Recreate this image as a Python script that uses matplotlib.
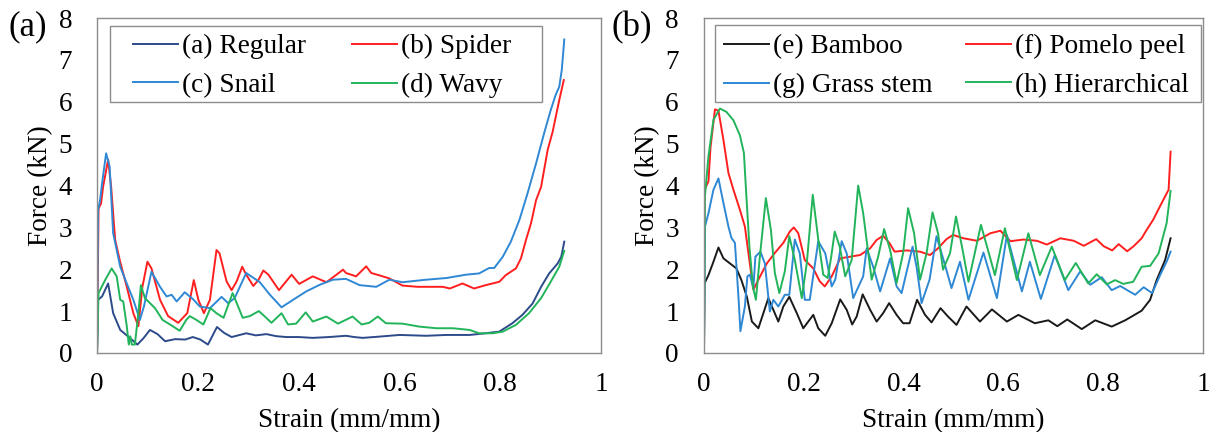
import matplotlib
matplotlib.use("Agg")
import matplotlib.pyplot as plt
from matplotlib.patches import Rectangle

plt.rcParams['font.family'] = ['Liberation Serif', 'DejaVu Serif']

# ---- panel (a) ----
regular_x = [0, 0.002, 0.01, 0.022, 0.032, 0.046, 0.065, 0.080, 0.092, 0.105, 0.12, 0.135, 0.155, 0.175,
             0.19, 0.205, 0.22, 0.238, 0.252, 0.267, 0.28, 0.296, 0.315, 0.336, 0.356, 0.376, 0.4, 0.428,
             0.46, 0.494, 0.51, 0.527, 0.56, 0.6, 0.653, 0.693, 0.739, 0.771, 0.798, 0.824, 0.844, 0.864,
             0.881, 0.897, 0.914, 0.921, 0.927]
regular_y = [0, 1.27, 1.35, 1.66, 0.95, 0.55, 0.36, 0.2, 0.35, 0.55, 0.45, 0.28, 0.33, 0.32,
             0.38, 0.32, 0.2, 0.62, 0.48, 0.38, 0.42, 0.47, 0.42, 0.45, 0.4, 0.38, 0.38, 0.36,
             0.38, 0.41, 0.38, 0.36, 0.39, 0.43, 0.41, 0.43, 0.43, 0.47, 0.51, 0.71, 0.91, 1.18,
             1.58, 1.90, 2.14, 2.30, 2.66]

spider_x = [0, 0.003, 0.008, 0.012, 0.022, 0.028, 0.036, 0.045, 0.059, 0.072, 0.082, 0.09, 0.1, 0.108,
            0.125, 0.141, 0.161, 0.179, 0.192, 0.201, 0.212, 0.224, 0.237, 0.243, 0.257, 0.267, 0.277,
            0.288, 0.296, 0.31, 0.32, 0.33, 0.34, 0.361, 0.386, 0.401, 0.428, 0.455, 0.475, 0.488, 0.494,
            0.514, 0.534, 0.544, 0.564, 0.58, 0.606, 0.636, 0.686, 0.7, 0.725, 0.748, 0.771, 0.798,
            0.811, 0.831, 0.841, 0.851, 0.861, 0.871, 0.881, 0.894, 0.904, 0.91, 0.917, 0.926]
spider_y = [0, 3.45, 3.57, 3.97, 4.62, 3.97, 2.70, 2.22, 1.58, 0.95, 0.64, 1.58, 2.18, 2.02,
            1.27, 0.88, 0.72, 0.95, 1.74, 1.27, 0.95, 1.27, 2.46, 2.38, 1.71, 1.50, 1.71,
            2.06, 1.87, 1.60, 1.74, 1.97, 1.87, 1.50, 1.87, 1.65, 1.83, 1.69, 1.87, 1.99, 1.91,
            1.83, 2.07, 1.91, 1.84, 1.78, 1.61, 1.58, 1.58, 1.54, 1.66, 1.54, 1.62, 1.70,
            1.86, 2.02, 2.26, 2.70, 3.10, 3.65, 3.97, 4.85, 5.29, 5.64, 6.04, 6.52]

snail_x = [0, 0.002, 0.006, 0.01, 0.018, 0.025, 0.032, 0.046, 0.059, 0.072, 0.085, 0.093, 0.108, 0.125,
           0.138, 0.148, 0.158, 0.174, 0.19, 0.204, 0.224, 0.247, 0.26, 0.273, 0.296, 0.323, 0.343,
           0.366, 0.389, 0.415, 0.442, 0.468, 0.494, 0.521, 0.554, 0.58, 0.606, 0.653, 0.693, 0.732,
           0.758, 0.778, 0.788, 0.805, 0.821, 0.838, 0.854, 0.871, 0.887, 0.9, 0.91, 0.917, 0.922, 0.927]
snail_y = [0, 3.4, 3.65, 4.05, 4.77, 4.45, 2.86, 2.06, 1.66, 1.27, 0.79, 1.11, 1.94, 1.58,
           1.35, 1.39, 1.23, 1.45, 1.29, 1.11, 1.07, 1.34, 1.19, 1.31, 1.91, 1.69, 1.39,
           1.09, 1.27, 1.47, 1.63, 1.75, 1.77, 1.62, 1.58, 1.75, 1.69, 1.75, 1.79, 1.87,
           1.90, 2.03, 2.03, 2.30, 2.66, 3.18, 3.81, 4.53, 5.25, 5.80, 6.17, 6.36, 6.76, 7.49]

wavy_x = [0, 0.003, 0.016, 0.029, 0.039, 0.046, 0.052, 0.059, 0.063, 0.066, 0.069, 0.075, 0.082, 0.087,
          0.095, 0.115, 0.13, 0.15, 0.164, 0.177, 0.184, 0.197, 0.211, 0.225, 0.237, 0.251, 0.269,
          0.289, 0.303, 0.321, 0.333, 0.346, 0.366, 0.379, 0.395, 0.414, 0.428, 0.455, 0.478, 0.507,
          0.525, 0.54, 0.557, 0.573, 0.606, 0.639, 0.673, 0.706, 0.739, 0.758, 0.785, 0.805, 0.831,
          0.857, 0.881, 0.9, 0.917, 0.927]
wavy_y = [0, 1.43, 1.74, 2.02, 1.83, 1.27, 1.23, 0.64, 0.2, 0.4, 0.2, 0.2, 0.95, 1.62,
          1.31, 1.07, 0.79, 0.64, 0.53, 0.79, 0.88, 0.79, 0.68, 1.07, 0.95, 0.84, 1.43,
          0.84, 0.88, 1.0, 0.87, 0.72, 0.95, 0.68, 0.70, 0.97, 0.75, 0.87, 0.70, 0.87,
          0.68, 0.72, 0.87, 0.71, 0.70, 0.63, 0.59, 0.59, 0.55, 0.47, 0.47, 0.51, 0.67,
          0.95, 1.31, 1.70, 2.06, 2.44]

# ---- panel (b) ----
bamboo_x = [0, 0.001, 0.009, 0.019, 0.029, 0.039, 0.052, 0.065, 0.075, 0.086, 0.096, 0.109, 0.119, 0.129,
            0.139, 0.149, 0.159, 0.171, 0.186, 0.199, 0.219, 0.229, 0.243, 0.256, 0.273, 0.286, 0.297,
            0.306, 0.318, 0.333, 0.346, 0.359, 0.371, 0.386, 0.399, 0.412, 0.427, 0.443, 0.456, 0.474,
            0.489, 0.506, 0.526, 0.553, 0.577, 0.607, 0.63, 0.663, 0.69, 0.708, 0.728, 0.757, 0.784,
            0.817, 0.844, 0.857, 0.877, 0.894, 0.907, 0.924, 0.935]
bamboo_y = [0, 1.66, 1.86, 2.18, 2.52, 2.26, 2.14, 2.02, 1.74, 1.34, 0.75, 0.59, 0.95, 1.31,
            1.03, 0.75, 1.11, 1.34, 0.95, 0.59, 0.91, 0.59, 0.41, 0.71, 1.28, 1.03, 0.68,
            0.87, 1.40, 1.03, 0.75, 0.95, 1.19, 0.91, 0.71, 0.71, 1.27, 0.91, 0.73, 1.07,
            0.87, 0.67, 1.11, 0.75, 1.04, 0.75, 0.91, 0.71, 0.78, 0.64, 0.80, 0.57, 0.78,
            0.63, 0.78, 0.87, 1.01, 1.27, 1.74, 2.22, 2.74]

pomelo_x = [0, 0.001, 0.009, 0.013, 0.022, 0.029, 0.039, 0.049, 0.059, 0.072, 0.082, 0.089, 0.099, 0.109,
            0.126, 0.142, 0.159, 0.172, 0.18, 0.189, 0.202, 0.219, 0.232, 0.242, 0.256, 0.273, 0.293,
            0.313, 0.333, 0.346, 0.359, 0.372, 0.382, 0.406, 0.433, 0.453, 0.469, 0.486, 0.499, 0.52,
            0.547, 0.574, 0.594, 0.614, 0.64, 0.667, 0.687, 0.714, 0.741, 0.761, 0.786, 0.801, 0.818,
            0.831, 0.848, 0.861, 0.877, 0.887, 0.9, 0.917, 0.931, 0.935]
pomelo_y = [0, 3.9, 4.1, 4.9, 5.82, 5.79, 5.09, 4.3, 3.9, 3.42, 3.02, 2.39, 1.51, 1.75,
            2.14, 2.39, 2.63, 2.9, 3.0, 2.86, 2.22, 2.02, 1.71, 1.59, 1.83, 2.26, 2.3,
            2.34, 2.5, 2.7, 2.8, 2.62, 2.42, 2.45, 2.42, 2.34, 2.5, 2.72, 2.82, 2.74,
            2.68, 2.86, 2.92, 2.67, 2.71, 2.68, 2.59, 2.74, 2.68, 2.56, 2.72, 2.55, 2.45,
            2.6, 2.43, 2.55, 2.74, 2.94, 3.18, 3.58, 3.9, 4.81]

grass_x = [0, 0.002, 0.009, 0.019, 0.029, 0.039, 0.049, 0.055, 0.062, 0.069, 0.073, 0.082, 0.087, 0.092,
           0.099, 0.103, 0.113, 0.122, 0.132, 0.139, 0.149, 0.162, 0.171, 0.182, 0.192, 0.202, 0.212,
           0.229, 0.243, 0.256, 0.263, 0.276, 0.286, 0.299, 0.319, 0.326, 0.339, 0.353, 0.373, 0.386,
           0.396, 0.418, 0.426, 0.436, 0.452, 0.466, 0.483, 0.496, 0.513, 0.53, 0.56, 0.587, 0.607,
           0.637, 0.653, 0.675, 0.703, 0.73, 0.754, 0.774, 0.797, 0.817, 0.834, 0.864, 0.881, 0.898,
           0.914, 0.927, 0.935]
grass_y = [0, 3.02, 3.34, 3.9, 4.17, 3.58, 3.02, 2.75, 2.63, 1.36, 0.52, 1.11, 1.83, 1.87,
           1.55, 2.3, 2.42, 2.14, 0.99, 1.27, 1.11, 1.39, 1.39, 2.71, 2.38, 1.27, 1.27,
           2.67, 2.38, 1.59, 1.75, 2.67, 2.38, 1.31, 1.83, 2.5, 2.06, 1.47, 2.26, 1.59,
           1.43, 2.54, 2.06, 1.19, 1.75, 2.79, 2.1, 1.55, 2.18, 1.27, 2.40, 1.31, 2.82,
           1.47, 2.18, 1.29, 2.34, 1.5, 1.95, 1.63, 1.81, 1.5, 1.6, 1.39, 1.57, 1.43,
           1.86, 2.18, 2.42]

hier_x = [0, 0.002, 0.009, 0.019, 0.032, 0.045, 0.059, 0.072, 0.08, 0.085, 0.091, 0.098, 0.104, 0.112,
          0.124, 0.134, 0.142, 0.151, 0.162, 0.171, 0.182, 0.196, 0.206, 0.218, 0.229, 0.239, 0.248,
          0.255, 0.262, 0.272, 0.283, 0.296, 0.309, 0.319, 0.336, 0.349, 0.361, 0.373, 0.386, 0.399,
          0.409, 0.421, 0.433, 0.446, 0.458, 0.469, 0.479, 0.493, 0.505, 0.517, 0.53, 0.555, 0.583,
          0.603, 0.627, 0.65, 0.673, 0.697, 0.723, 0.745, 0.77, 0.787, 0.807, 0.824, 0.84, 0.86,
          0.877, 0.894, 0.911, 0.927, 0.935]
hier_y = [0, 3.75, 4.7, 5.57, 5.84, 5.76, 5.56, 5.2, 4.78, 3.74, 2.55, 1.59, 1.27, 2.3,
          3.7, 2.95, 1.91, 1.43, 1.95, 2.79, 2.22, 1.31, 2.14, 3.78, 2.71, 1.87, 1.79,
          2.3, 2.9, 2.54, 1.83, 2.22, 4.0, 3.34, 1.75, 2.3, 2.96, 2.46, 1.67, 2.38,
          3.46, 2.86, 1.75, 2.38, 3.36, 2.86, 1.99, 2.38, 3.26, 2.54, 1.70, 3.06, 1.86,
          2.98, 1.74, 2.86, 1.86, 2.54, 1.74, 2.15, 1.66, 1.88, 1.64, 1.74, 1.65, 1.7,
          2.06, 2.08, 2.38, 3.1, 3.87]

labels_a = ['(a) Regular', '(b) Spider', '(c) Snail', '(d) Wavy']
labels_b = ['(e) Bamboo', '(f) Pomelo peel', '(g) Grass stem', '(h) Hierarchical']
ticks_x = [0, 0.2, 0.4, 0.6, 0.8, 1]
tick_x_labels = ['0', '0.2', '0.4', '0.6', '0.8', '1']
ticks_y = [0, 1, 2, 3, 4, 5, 6, 7, 8]

navy = '#2d4a8a'
red = '#ff1f1f'
blue = '#2f88d4'
green = '#22b45a'
black = '#1a1a1a'
edge = '#8c8c8c'

fs = 19.6
lw = 1.4

fig = plt.figure(figsize=(12.19, 4.32), dpi=100)
axA = fig.add_axes([0.0796, 0.183, 0.4135, 0.775])
axB = fig.add_axes([0.5775, 0.183, 0.4094, 0.775])

hA = []
hA += axA.plot(regular_x, regular_y, color=navy, lw=lw)
hA += axA.plot(spider_x, spider_y, color=red, lw=lw)
hA += axA.plot(snail_x, snail_y, color=blue, lw=lw)
hA += axA.plot(wavy_x, wavy_y, color=green, lw=lw)

hB = []
hB += axB.plot(bamboo_x, bamboo_y, color=black, lw=lw)
hB += axB.plot(pomelo_x, pomelo_y, color=red, lw=lw)
hB += axB.plot(grass_x, grass_y, color=blue, lw=lw)
hB += axB.plot(hier_x, hier_y, color=green, lw=lw)

# legend frame box (axes fraction) and where the entries start
panels = [
    (axA, hA, labels_a, (0.026, 0.749, 0.857, 0.227), (0.071, 0.952), 1.7),
    (axB, hB, labels_b, (0.022, 0.749, 0.974, 0.230), (0.040, 0.952), 1.25),
]

for ax, handles, labels, box, anchor, colsp in panels:
    ax.set_xlim(0, 1)
    ax.set_ylim(0, 8)
    ax.set_xticks(ticks_x)
    ax.set_xticklabels(tick_x_labels)
    ax.set_yticks(ticks_y)
    ax.tick_params(axis='both', length=0, labelsize=fs)
    ax.tick_params(axis='x', pad=14)
    ax.tick_params(axis='y', pad=18)
    for s in ax.spines.values():
        s.set_color(edge)
        s.set_linewidth(1.0)
    ax.set_xlabel('Strain (mm/mm)', fontsize=fs, labelpad=8)
    ax.set_ylabel('Force (kN)', fontsize=fs, labelpad=4)

    ax.add_patch(Rectangle(box[:2], box[2], box[3], transform=ax.transAxes,
                           facecolor='white', edgecolor=edge, lw=1.0, zorder=4))
    # row order: first, second / third, fourth -> matplotlib fills by column
    order = [0, 2, 1, 3]
    leg = ax.legend([handles[i] for i in order], [labels[i] for i in order],
                    loc='upper left', bbox_to_anchor=anchor, ncol=2,
                    fontsize=fs, frameon=False, handlelength=1.65, handletextpad=0.15,
                    labelspacing=0.5, borderpad=0, columnspacing=colsp, borderaxespad=0)
    leg.set_zorder(5)

fig.text(0.007, 0.975, '(a)', fontsize=25, va='top', ha='left')
fig.text(0.502, 0.975, '(b)', fontsize=25, va='top', ha='left')

fig.savefig('out.png', dpi=100)
